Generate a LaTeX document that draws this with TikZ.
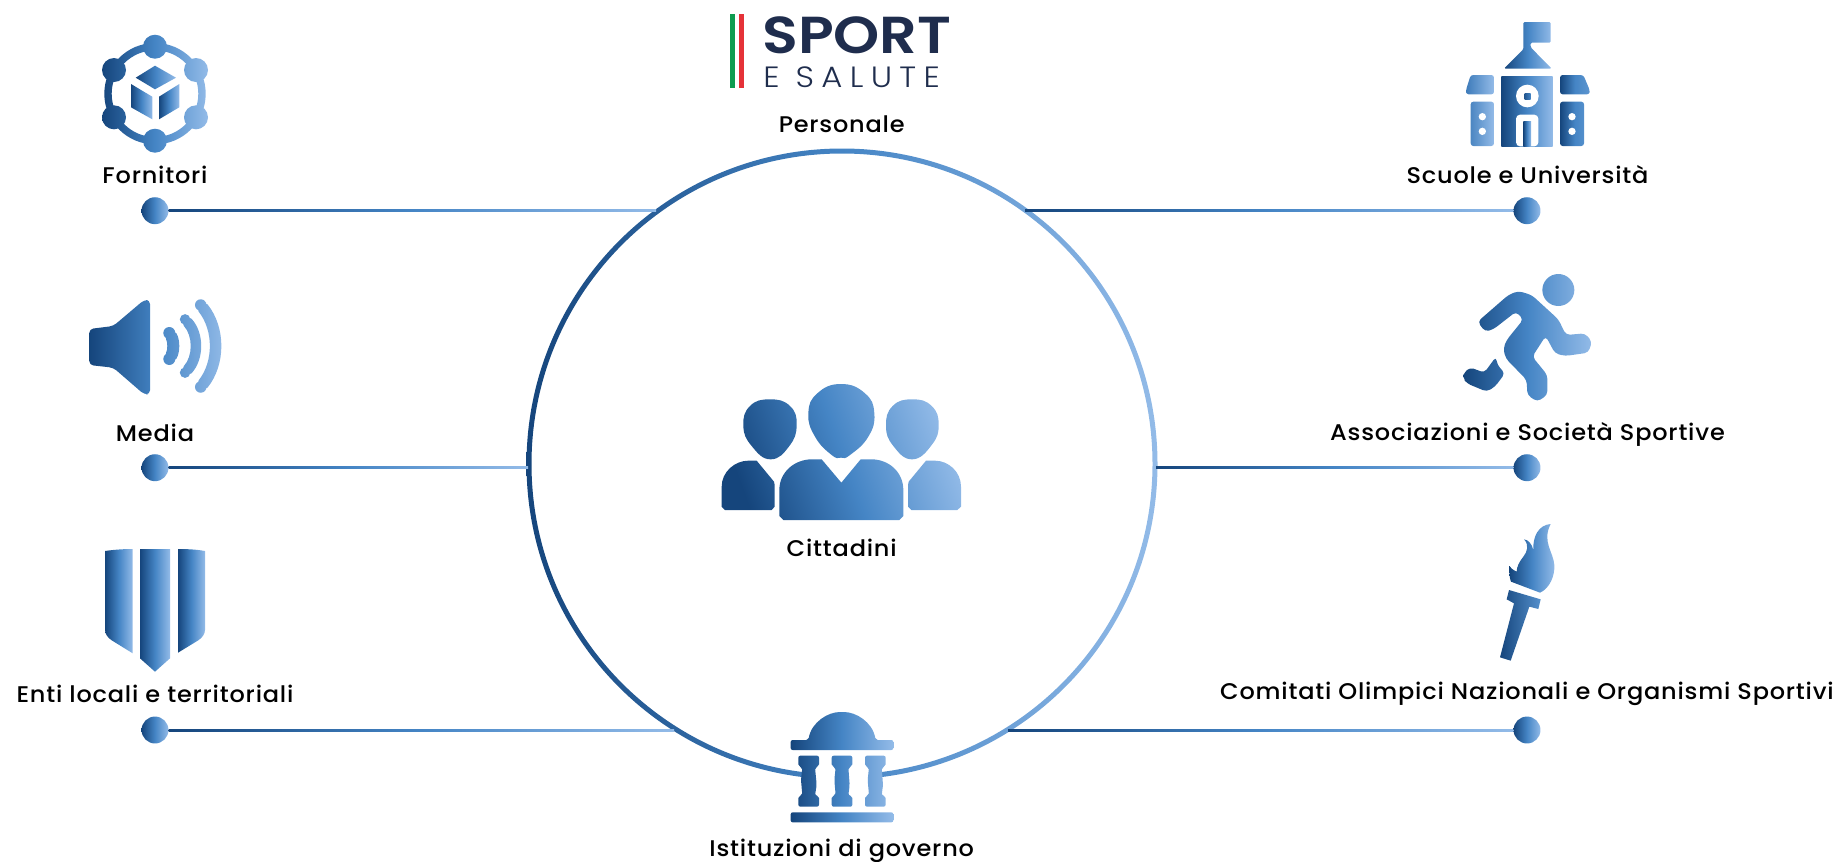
\documentclass[tikz,border=0pt]{standalone}
\usepackage{fontspec}
\setmainfont{Poppins}
\newfontfamily\labfont{Poppins Medium}[FakeStretch=1.06,LetterSpace=3.5]
\newfontfamily\logofont{Poppins SemiBold}[FakeStretch=1.13]
\newfontfamily\logolight{Poppins Light}[FakeStretch=1.1,LetterSpace=25]
\usetikzlibrary{calc}
\definecolor{gd}{HTML}{15457C}
\definecolor{gm}{HTML}{4585C5}
\definecolor{gl}{HTML}{93BBE8}
\definecolor{navy}{HTML}{1F2D4D}
\definecolor{itg}{HTML}{0E9C50}
\definecolor{itr}{HTML}{E53238}
\newcommand\sarc[5]{({#1+(#3+#4/2)*cos(#5)},{#2-(#3+#4/2)*sin(#5)}) arc[start angle=-#5,end angle=#5,radius=#3+#4/2] -- ({#1+(#3-#4/2)*cos(#5)},{#2+(#3-#4/2)*sin(#5)}) arc[start angle=#5,end angle=-#5,radius=#3-#4/2] -- cycle ({#1+#3*cos(#5)},{#2-#3*sin(#5)}) circle[radius=#4/2] ({#1+#3*cos(#5)},{#2+#3*sin(#5)}) circle[radius=#4/2]}
\newcommand\link[3]{\draw[gm,line width=#3*.3pt] (#1) -- (#2);
 \path[grad] ($(#1)+(0,-#3/2)$) rectangle ($(#2)+(0,#3/2)$);}
\tikzset{
 grad/.style={left color=gd,right color=gl,middle color=gm},
 lab/.style={inner sep=0pt,anchor=base,font=\labfont\fontsize{17}{20}\selectfont,text=black},
 dotnode/.style={circle,inner sep=0pt,minimum size=20.2pt,grad},
 zoomed/.style={shift={#1},x=.25pt,y=-.25pt},
}
\begin{document}
\begin{tikzpicture}[x=.75pt,y=-.75pt]
\useasboundingbox (0,0) rectangle (1838,861);
% ring
\path[grad,even odd rule] (842,464) circle[radius=315.5] circle[radius=310.5];
\fill[white] (806,745) rectangle (878,800);
% connector ends
\coordinate (e1) at (656,210.7);
\coordinate (e2) at (528,467.7);
\coordinate (e3) at (674,730);
\coordinate (e4) at (1025,210.7);
\coordinate (e5) at (1156,467.7);
\coordinate (e6) at (1008,730);
% dots
\node[dotnode] (d1) at (155,210.7) {};
\node[dotnode] (d2) at (155,467.7) {};
\node[dotnode] (d3) at (155,730) {};
\node[dotnode] (d4) at (1527,210.7) {};
\node[dotnode] (d5) at (1527,467.7) {};
\node[dotnode] (d6) at (1527,730) {};
\link{d1.east}{e1}{2.4}
\link{d2.east}{e2}{2}
\link{d3.east}{e3}{2}
\link{e4}{d4.west}{2.4}
\link{e5}{d5.west}{2}
\link{e6}{d6.west}{2}
% labels
\node[lab] (fornitori) at (155,183.5) {Fornitori};
\node[lab] (media) at (155,441.5) {Media};
\node[lab] (enti) at (155,702) {Enti locali e territoriali};
\node[lab] (personale) at (841.7,132.5) {Personale};
\node[lab] (cittadini) at (841.7,556.5) {Cittadini};
\node[lab] (istituzioni) at (841.7,856.5) {Istituzioni di governo};
\node[lab] (scuole) at (1527.5,183.5) {Scuole e Università};
\node[lab] (assoc) at (1527.5,440.5) {Associazioni e Società Sportive};
\node[lab] (comitati) at (1527,699.5) {Comitati Olimpici Nazionali e Organismi Sportivi};
% logo
\fill[itg] (730,14) rectangle (734.5,88);
\fill[itr] (739,14) rectangle (744,88);
\node[inner sep=0pt,anchor=base west,text=navy,font=\logofont\fontsize{39}{39}\selectfont] (sport) at (762,53) {SPORT};
\node[inner sep=0pt,anchor=base west,text=navy,font=\logolight\fontsize{22}{23}\selectfont] (esalute) at (763,87) {E SALUTE};
% Fornitori icon
\path[grad] (155,93.7) circle[radius=50.7]
 (198.3,93.7) arc[start angle=0,end angle=-360,radius=43.3]
 (155,46.7) circle[radius=12] (155,140.7) circle[radius=12] (114,70) circle[radius=12] (114,117.3) circle[radius=12] (196,70) circle[radius=12] (196,117.3) circle[radius=12];
\path[grad] (155,65.7) -- (176,77.7) -- (155,89.3) -- (135.7,77.7) -- cycle;
\path[grad] (131,84) -- (152.3,96.7) -- (152.3,119.3) -- (131,107.3) -- cycle;
\path[grad] (159,96.7) -- (179.3,84) -- (179.3,107.3) -- (159,119.3) -- cycle;
% Media icon
\path[grad] [rounded corners=3pt] (89.3,329) -- (113.3,326) -- (144,300) -- (150,300) -- (150,394.3) -- (144,394.3) -- (113.3,367.7) -- (89.3,365) -- cycle
 \sarc{146.8}{346}{26}{12}{30} \sarc{155.5}{346}{39.8}{10.5}{42} \sarc{149}{346}{66}{11.5}{38.4};
% Shield
\path[grad] (105,551) .. controls (115,549.5) and (125,549) .. (132.7,549) -- (132.7,653.3) -- (112,640.5) .. controls (108,638) and (105,634) .. (105,630) -- cycle;
\path[grad] (140,549) -- (170,549) -- (170,658.3) -- (155,671.7) -- (140,658.3) -- cycle;
\path[grad] (178,549) .. controls (187,549) and (197,549.5) .. (205,551) -- (205,630) .. controls (205,634) and (202,638) .. (198,640.5) -- (178,652.7) -- cycle;
% School
\begin{scope}[zoomed={(1440,10)}]
\path[grad,rounded corners=1pt] (250,36) -- (332,36) -- (332,98) -- (272,98) -- (272,112) -- (335,176) -- (192,176) -- (250,118) -- cycle;
\path[grad] (184,198) rectangle (338,409);
\fill[white] (262,258) circle[radius=34];
\path[left color=gd!70!gm,right color=gm] (254,249) rectangle (272,267);
\fill[white,rounded corners=3pt] (228,409) -- (228,314) -- (295,314) -- (295,409) -- cycle;
\path[grad] (250,333) rectangle (273,409);
\path[left color=gm!85!gd,right color=gl,rounded corners=2pt] (92,195) -- (162,195) -- (162,253) -- (78,253) -- (78,240) -- cycle (92,275) -- (162,275) -- (162,408) -- (92,408) -- cycle;
\path[left color=gd,right color=gm!70!gl,middle color=gm,rounded corners=2pt] (360,195) -- (430,195) -- (449,240) -- (449,253) -- (360,253) -- cycle (360,275) -- (432,275) -- (432,408) -- (360,408) -- cycle;
\fill[white] (127,320) circle[radius=11] (127,364) circle[radius=11] (396,320) circle[radius=11] (396,364) circle[radius=11];
\end{scope}
% Runner
\begin{scope}[zoomed={(1440,260)}]
\path[grad,rounded corners=3pt] (355,90) circle[radius=48]
 (113,185) -- (205,105) -- (235,93) -- (275,105) -- (355,178) -- (378,225) -- (435,220) -- (456,245) -- (445,278) -- (375,288) -- (345,280) -- (317,228) -- (277,290) -- (322,345) -- (322,405) -- (292,425) -- (262,405) -- (260,360) -- (197,295) -- (190,265) -- (200,240) -- (250,178) -- (228,155) -- (160,208) -- (135,215) -- cycle
 (70,340) -- (90,322) -- (133,338) -- (168,290) -- (172,315) -- (195,340) -- (165,380) -- (140,395) -- (80,370) -- (70,355) -- cycle;
\end{scope}
% Torch
\begin{scope}[zoomed={(1470,510)}]
\path[grad] (242,42) .. controls (205,45) and (188,80) .. (190,120) .. controls (185,100) and (175,90) .. (162,88) .. controls (178,105) and (172,125) .. (160,140) .. controls (148,155) and (140,170) .. (140,185) .. controls (130,180) and (122,175) .. (118,168) .. controls (118,185) and (118,205) .. (123,215) -- (210,248) .. controls (240,235) and (255,195) .. (253,165) .. controls (250,125) and (215,95) .. (242,42) -- cycle;
\path[left color=gd,right color=gm!80!gl] (117,240) -- (212,268) -- (205,297) -- (178,290) -- (122,452) -- (90,442) -- (132,280) -- (110,268) -- cycle;
\end{scope}
% Temple
\begin{scope}[zoomed={(690,690)}]
\path[grad,rounded corners=1.5pt] (302,150) -- (355,150) .. controls (365,95) and (415,66) .. (456,66) .. controls (497,66) and (547,95) .. (557,150) -- (610,150) -- (610,180) -- (302,180) -- cycle
 (302,367) -- (610,367) -- (610,397) -- (302,397) -- cycle
 (325,197) -- (387,197) -- (387,229) -- (375,232) -- (380,285) -- (375,316) -- (387,318) -- (387,350) -- (325,350) -- (325,318) -- (337,316) -- (333,270) -- (337,232) -- (325,229) -- cycle
 (425,197) -- (487,197) -- (487,229) -- (475,232) -- (479,285) -- (475,316) -- (487,318) -- (487,350) -- (425,350) -- (425,318) -- (437,316) -- (433,270) -- (437,232) -- (425,229) -- cycle
 (525,197) -- (587,197) -- (587,229) -- (575,232) -- (579,285) -- (575,316) -- (587,318) -- (587,350) -- (525,350) -- (525,318) -- (537,316) -- (533,270) -- (537,232) -- (525,229) -- cycle;
\end{scope}
% People
\begin{scope}[zoomed={(700,370)}]
\path[grad,shading angle=110]
 plot[smooth cycle,tension=.8] coordinates {(210,88) (270,108) (290,165) (268,228) (212,268) (155,228) (130,168) (150,108)}
 plot[smooth cycle,tension=.8] coordinates {(423,42) (495,70) (523,130) (505,200) (450,255) (423,263) (395,255) (345,200) (325,130) (352,70)}
 plot[smooth cycle,tension=.8] coordinates {(637,88) (695,108) (716,165) (695,225) (637,268) (580,228) (558,168) (578,108)}
 (65,350) .. controls (65,305) and (105,272) .. (145,272) -- (170,272) -- (222,335) -- (224,345) -- (224,410) -- (215,420) -- (75,420) -- (65,410) -- cycle
 (238,360) .. controls (238,305) and (285,268) .. (335,268) -- (365,268) -- (424,338) -- (482,268) -- (515,268) .. controls (565,268) and (610,305) .. (610,360) -- (610,438) -- (598,450) -- (250,450) -- (238,438) -- cycle
 (624,345) -- (626,335) -- (678,272) -- (705,272) .. controls (745,272) and (783,305) .. (783,350) -- (783,410) -- (772,420) -- (634,420) -- (624,410) -- cycle;
\end{scope}
\end{tikzpicture}
\end{document}
